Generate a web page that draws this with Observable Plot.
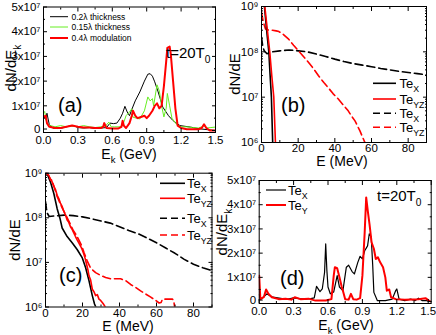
<!DOCTYPE html>
<html><head><meta charset="utf-8">
<script src="https://cdn.jsdelivr.net/npm/d3@7"></script>
<script src="https://cdn.jsdelivr.net/npm/@observablehq/plot@0.6"></script>
<style>
body{margin:0;background:#fff}
#fig{position:relative;width:436px;height:335px;overflow:hidden;font-family:"Liberation Sans",Arial,sans-serif;background:#fff}
#fig svg{position:absolute}
</style></head><body><div id="fig"></div>
<script>
// ---------- Panel (a): dN/dEk (x10^7) vs Ek (GeV) ----------
const aBlackE = [0,0.01,0.02,0.03,0.05,0.08,0.12,0.16,0.2,0.24,0.27,0.3,0.35,0.4,0.45,0.5,0.55,0.58,0.61,0.64,0.67,0.69,0.71,0.73,0.75,0.77,0.8,0.84,0.88,0.91,0.93,0.95,0.97,1.0,1.04,1.09,1.13,1.19,1.28,1.36,1.44,1.5];
const aBlackN = [0.5,0.55,0.45,0.7,0.25,0.1,0.08,0.1,0.15,0.2,0.18,0.12,0.1,0.12,0.08,0.1,0.12,0.3,0.28,0.3,0.5,0.7,0.98,0.75,0.6,0.85,1.2,1.56,2.0,2.28,2.3,2.2,1.97,1.56,0.95,0.6,0.4,0.2,0.14,0.07,0.03,0.0];
const aGreenE = [0,0.01,0.03,0.06,0.1,0.15,0.2,0.25,0.3,0.35,0.4,0.45,0.5,0.54,0.57,0.59,0.62,0.66,0.69,0.72,0.75,0.77,0.78,0.81,0.84,0.88,0.91,0.93,0.95,0.96,0.99,1.01,1.03,1.05,1.07,1.08,1.1,1.12,1.16,1.2,1.25,1.3,1.35,1.38,1.4,1.42,1.46,1.5];
const aGreenN = [0.7,0.77,0.27,0.2,0.15,0.2,0.15,0.18,0.15,0.2,0.15,0.12,0.15,0.18,0.34,0.15,0.15,0.15,0.2,0.6,0.75,0.88,0.54,0.5,0.47,0.8,1.36,1.2,1.29,1.0,1.85,1.6,1.0,0.55,0.9,1.5,1.0,0.5,0.25,0.15,0.15,0.12,0.1,0.15,0.2,0.1,0.12,0.14];
const aRedE = [0,0.01,0.02,0.03,0.05,0.1,0.15,0.2,0.25,0.3,0.35,0.4,0.45,0.5,0.52,0.53,0.55,0.6,0.65,0.68,0.69,0.7,0.72,0.75,0.77,0.78,0.8,0.82,0.85,0.88,0.9,0.92,0.95,0.97,0.99,1.01,1.03,1.05,1.07,1.08,1.1,1.11,1.13,1.15,1.17,1.2,1.25,1.3,1.35,1.38,1.4,1.42,1.45,1.5];
const aRedN = [0.6,0.55,0.6,0.3,0.15,0.1,0.1,0.15,0.2,0.15,0.12,0.12,0.1,0.1,0.15,0.3,0.1,0.08,0.08,0.15,0.4,0.2,0.1,0.3,0.6,0.8,0.6,0.5,0.55,0.6,0.5,0.6,0.8,1.0,1.1,0.9,1.0,1.8,2.8,3.35,3.4,3.1,2.0,0.9,0.2,0.1,0.05,0.05,0.05,0.1,0.25,0.1,0.0,0.0];
const legendA = ["0.2\u03bb thickness","0.15\u03bb thickness","0.4\u03bb modulation"];

// ---------- Panel (b): dN/dE vs E (MeV), log ----------
const bSolidXE = [1.6,2.8,4.0,4.7,5.4,6.1];
const bSolidXN = [1e9,3e8,1e8,3e7,1e7,1e6];
const bSolidYZE = [1.8,3.2,4.5,5.6,6.7,7.6];
const bSolidYZN = [1e9,3e8,1e8,3e7,1e7,1e6];
const bDashXE = [0,0.7,1.5,3,6,10,15,20,25,30,35,40,45,50,55,60,65,70,75,80,85,90];
const bDashXN = [2.1e8,1.3e8,1.05e8,9.1e7,1.0e8,1.05e8,1.1e8,1.05e8,1.0e8,8.9e7,7.9e7,6.9e7,6.1e7,5.5e7,5.1e7,4.7e7,4.3e7,4.0e7,3.7e7,3.5e7,3.3e7,3.1e7];
const bDashYZE = [0,1,2.2,4,6,8,9.5,12,14.8,17.5,20.2,23,25.7,28.5,31,34,36.5,39,41.9,44.5,47.3,49,51,53.7,56.4];
const bDashYZN = [7.4e8,4.5e8,3.2e8,3.0e8,3.0e8,2.9e8,2.8e8,2.4e8,1.9e8,1.4e8,1.05e8,7.8e7,5.8e7,4.2e7,3.0e7,2.1e7,1.6e7,1.2e7,9.1e6,6.8e6,5e6,3.9e6,3e6,1.8e6,1.0e6];

// ---------- Panel (c): dN/dE vs E (MeV), log ----------
const cSolidXE = [0.9,2.7,4.5,6.3,7.8,9,11.7,14.4,17.1,19.9,21.7,23.5,25.3,26.5,27.2];
const cSolidXN = [9.8e8,6.3e8,3.5e8,1.6e8,9.8e7,5.9e7,3.8e7,2.75e7,1.95e7,1.26e7,7.6e6,3.9e6,1.8e6,1.17e6,1.0e6];
const cSolidYZE = [0.5,1.2,1.8,2.3,2.7,3.2,3.6,4.5,5.4,6.3,7.2,8.1,9,9.9,10.8,11.7,12.6,13.5,14.4,15.3,16.2,17.1,18,19,19.9,20.8,21.5,22.2,23,23.5,24.4,25.3,26.2,27.1,28,28.9,29.8,30.7,31.6,32.3];
const cSolidYZN = [1.07e9,9.3e8,8.9e8,7.9e8,6.9e8,7.1e8,6.3e8,5.1e8,4.3e8,3.2e8,2.7e8,2.1e8,1.8e8,1.4e8,1.15e8,8.9e7,7.9e7,6.3e7,5.5e7,4.6e7,3.8e7,3.2e7,2.75e7,2.3e7,1.9e7,1.5e7,1.2e7,9.1e6,6.6e6,5.0e6,4.0e6,2.5e6,2.2e6,1.8e6,1.9e6,1.5e6,1.4e6,1.26e6,1.12e6,1.0e6];
const cDashXE = [0,0.5,1,2,5,10,15,20,25,30,35,40,45,50,55,60,65,70,75,80,85,90];
const cDashXN = [2.3e8,1.6e8,1.26e8,1.07e8,1.1e8,1.15e8,1.12e8,1.05e8,9.5e7,8.5e7,7.6e7,6.3e7,5.2e7,4.4e7,3.5e7,2.75e7,2.1e7,1.6e7,1.17e7,9.1e6,7.6e6,6.5e6];
const cDashYZE = [0.5,1.5,2.5,3.5,4.5,6,7.5,9,10.5,12,13.5,15,16.5,18,19.5,20.8,22.6,24.4,27.1,29.8,32.5,35.2,37.9,40.6,43.3,46,48.7,51.4,54.2,56.9,59.6,61.4,62.5,63.2,65.9,68.6,69.3,69.8];
const cDashYZN = [1e9,8.9e8,7.6e8,6.6e8,5.2e8,3.2e8,2.3e8,1.66e8,1.26e8,9.5e7,7.1e7,5.2e7,4.2e7,3.2e7,2.4e7,1.66e7,1.07e7,7.4e6,5.9e6,5.1e6,4.6e6,4.3e6,4.3e6,4.3e6,3.9e6,3.2e6,2.75e6,2.3e6,1.95e6,1.66e6,1.4e6,1.23e6,1.26e6,1.5e6,1.5e6,1.5e6,1.4e6,1.0e6];

// ---------- Panel (d): dN/dEk (x10^7) vs Ek (GeV) ----------
const dBlackE = [0,0.01,0.04,0.067,0.09,0.12,0.16,0.2,0.25,0.3,0.35,0.4,0.45,0.48,0.5,0.53,0.55,0.57,0.58,0.59,0.6,0.62,0.65,0.68,0.7,0.73,0.76,0.78,0.81,0.83,0.86,0.88,0.9,0.92,0.945,0.96,0.977,0.99,1.0,1.03,1.1,1.16,1.19,1.2,1.22,1.27,1.32,1.36,1.39,1.42,1.46,1.5];
const dBlackN = [0.3,0.1,0.2,0.32,0.25,0.18,0.15,0.12,0.1,0.15,0.12,0.1,0.12,0.15,0.63,0.41,0.52,1.2,2.38,1.3,0.6,0.32,0.4,1.07,0.6,0.45,1.42,1.5,1.24,1.14,1.62,1.87,1.76,2.1,2.3,2.8,2.66,1.49,0.38,0.04,0.04,0.1,0.45,0.52,0.1,0.04,0.1,0.04,0.14,0.04,0.04,0.0];
const dRedE = [0,0.01,0.04,0.06,0.08,0.11,0.17,0.23,0.28,0.31,0.36,0.43,0.49,0.52,0.58,0.63,0.65,0.66,0.68,0.7,0.72,0.73,0.75,0.78,0.8,0.82,0.85,0.88,0.9,0.92,0.933,0.948,0.962,0.98,1.0,1.017,1.035,1.055,1.08,1.1,1.113,1.134,1.15,1.19,1.27,1.39,1.45,1.48,1.5];
const dRedN = [1.07,0.1,0.18,0.5,0.32,0.18,0.1,0.12,0.08,0.18,0.1,0.12,0.04,0.04,0.04,0.1,1.07,1.42,1.38,1.0,0.6,0.45,0.1,0.08,0.32,0.1,0.08,0.14,1.07,2.86,4.3,3.7,3.2,2.45,2.18,1.76,1.83,1.62,1.42,1.0,0.45,0.5,0.18,0.1,0.08,0.1,0.14,0.04,0.0];

// ---------- ticks ----------
const gevTicks = [0,0.3,0.6,0.9,1.2,1.5];
const gevMinor = [0.15,0.45,0.75,1.05,1.35];
const linTicks = [0,1,2,3,4,5];
const linMinor = [0.5,1.5,2.5,3.5,4.5];
const mevTicks = [0,20,40,60,80];
const mevMinor = [10,30,50,70,90];
const logTicks = [1e6,1e7,1e8,1e9];
const logMinor = [6,7,8].flatMap(p => [2,3,4,5,6,7,8,9].map(k => k*10**p));

const SUP = {6:"\u2076",7:"\u2077",8:"\u2078",9:"\u2079"};
const fmtE7 = d => d === 0 ? "0" : d + "x10\u2077";
const fmtLog = d => "10" + SUP[Math.round(Math.log10(d))];
const fmtGeV = d3.format(".1f");
const none = () => "";

const RED = "#ff0000", GREEN = "#66ee22", BLACK = "#000000";
const DASH = "8,4";

function frameAxes(xMaj, xMin, yMaj, yMin, xFmt, yFmt, xPad = 7, lastDx = 0, zeroDy = 0) {
  const L = 4, S = 2, pad = 7;
  const xLab = lastDx
    ? [Plot.axisX(xMaj.slice(0, -1), {anchor:"bottom", tickSize:-L, tickPadding:xPad, tickFormat:xFmt, label:null}),
       Plot.axisX(xMaj.slice(-1), {anchor:"bottom", tickSize:-L, tickPadding:xPad, tickFormat:xFmt, label:null, dx:lastDx})]
    : [Plot.axisX(xMaj, {anchor:"bottom", tickSize:-L, tickPadding:xPad, tickFormat:xFmt, label:null})];
  const yLab = zeroDy
    ? [Plot.axisY(yMaj.slice(1), {anchor:"left", tickSize:-L, tickPadding:pad, tickFormat:yFmt, label:null}),
       Plot.axisY(yMaj.slice(0, 1), {anchor:"left", tickSize:-L, tickPadding:pad, tickFormat:yFmt, label:null, dy:zeroDy})]
    : [Plot.axisY(yMaj, {anchor:"left", tickSize:-L, tickPadding:pad, tickFormat:yFmt, label:null})];
  return [
    ...xLab,
    Plot.axisX(xMin, {anchor:"bottom", tickSize:-S, tickFormat:none, label:null}),
    Plot.axisX(xMaj, {anchor:"top", tickSize:-L, tickFormat:none, label:null}),
    Plot.axisX(xMin, {anchor:"top", tickSize:-S, tickFormat:none, label:null}),
    ...yLab,
    Plot.axisY(yMin, {anchor:"left", tickSize:-S, tickFormat:none, label:null}),
    Plot.axisY(yMaj, {anchor:"right", tickSize:-L, tickFormat:none, label:null}),
    Plot.axisY(yMin, {anchor:"right", tickSize:-S, tickFormat:none, label:null}),
    Plot.frame({stroke:"black", strokeWidth:1})
  ];
}
const ln = (xs, ys, o) => Plot.line(xs, {x: xs, y: ys, clip: true, strokeLinejoin:"round", ...o});
const baseStyle = {fontFamily:"Liberation Sans, Arial, sans-serif", fontSize:"11.5px", background:"transparent", overflow:"visible", color:"black"};

function place(svg, left, top) { svg.style.left = left + "px"; svg.style.top = top + "px"; document.getElementById("fig").appendChild(svg); }

// (a)
place(Plot.plot({
  width:218, height:165, marginLeft:43, marginRight:3, marginTop:6.5, marginBottom:33, style:baseStyle,
  x:{domain:[0,1.5]}, y:{domain:[-0.08,5]},
  marks:[
    ln(aBlackE, aBlackN, {stroke:BLACK, strokeWidth:1}),
    ln(aGreenE, aGreenN, {stroke:GREEN, strokeWidth:1}),
    ln(aRedE, aRedN, {stroke:RED, strokeWidth:2}),
    ...frameAxes(gevTicks, gevMinor, linTicks, linMinor, fmtGeV, fmtE7, 7.5, 0, -1.5)
  ]
}), 0, 0);

// (b)
place(Plot.plot({
  width:218, height:165, marginLeft:43, marginRight:10, marginTop:6, marginBottom:23, style:baseStyle,
  x:{domain:[0,90]}, y:{type:"log", domain:[1e6,1e9]},
  marks:[
    ln(bDashXE, bDashXN, {stroke:BLACK, strokeWidth:1.6, strokeDasharray:DASH}),
    ln(bDashYZE, bDashYZN, {stroke:RED, strokeWidth:1.6, strokeDasharray:DASH}),
    ln(bSolidXE, bSolidXN, {stroke:BLACK, strokeWidth:1.6}),
    ln(bSolidYZE, bSolidYZN, {stroke:RED, strokeWidth:1.6}),
    ...frameAxes(mevTicks, mevMinor, logTicks, logMinor, d => String(d), fmtLog, 5.5)
  ]
}), 218, 0);

// (c)
place(Plot.plot({
  width:218, height:170, marginLeft:45, marginRight:6.5, marginTop:7.7, marginBottom:28.5, style:baseStyle,
  x:{domain:[0,90]}, y:{type:"log", domain:[1e6,1e9]},
  marks:[
    ln(cDashXE, cDashXN, {stroke:BLACK, strokeWidth:1.6, strokeDasharray:DASH}),
    ln(cDashYZE, cDashYZN, {stroke:RED, strokeWidth:1.6, strokeDasharray:DASH}),
    ln(cSolidXE, cSolidXN, {stroke:BLACK, strokeWidth:1.6}),
    ln(cSolidYZE, cSolidYZN, {stroke:RED, strokeWidth:1.6}),
    ...frameAxes(mevTicks, mevMinor, logTicks, logMinor, d => String(d), fmtLog, 5.5)
  ]
}), 0, 165);

// (d)
place(Plot.plot({
  width:218, height:170, marginLeft:40.7, marginRight:5.3, marginTop:15, marginBottom:32, style:baseStyle,
  x:{domain:[0,1.5]}, y:{domain:[-0.08,5]},
  marks:[
    ln(dBlackE, dBlackN, {stroke:BLACK, strokeWidth:1.2}),
    ln(dRedE, dRedN, {stroke:RED, strokeWidth:2}),
    ...frameAxes(gevTicks, gevMinor, linTicks, linMinor, fmtGeV, fmtE7, 7.5, -3, -1.5)
  ]
}), 218, 165);

// ---------- overlay text: titles, labels, legends ----------
const ov = d3.select("#fig").append("svg").attr("width",436).attr("height",335)
  .style("left","0px").style("top","0px").attr("font-family","Liberation Sans, Arial, sans-serif");

function rich(x, y, segs, size, opts = {}) {
  const t = ov.append("text").attr("x", x).attr("y", y).attr("font-size", size)
    .attr("text-anchor", opts.anchor || "start").attr("fill", "black");
  if (opts.rotate) t.attr("transform", `rotate(${opts.rotate},${x},${y})`);
  let shift = 0;
  for (const [s, kind] of segs) {
    const target = kind === "sub" ? size * 0.32 : kind === "sup" ? -size * 0.4 : 0;
    t.append("tspan").attr("dy", target - shift).attr("font-size", kind ? size * 0.68 : size).text(s);
    shift = target;
  }
  return t;
}
function legend(x0, x1, tx, rows, size, items) {
  items.forEach((it, i) => {
    const y = rows[i];
    ov.append("line").attr("x1", x0).attr("x2", x1).attr("y1", y).attr("y2", y)
      .attr("stroke", it.color).attr("stroke-width", it.width).attr("stroke-dasharray", it.dash || null);
    rich(tx, y + size * 0.35, it.label, size);
  });
}

const dNdEk = [["dN/dE"],["k","sub"]];
const dNdE = [["dN/dE"]];
const EkGeV = [["E"],["k","sub"],[" (GeV)"]];
const EMeV = [["E (MeV)"]];
const tLabel = [["t=20T"],["0","sub"]];
const TeX = [["Te"],["X","sub"]];
const TeYZ = [["Te"],["YZ","sub"]];
const TeY = [["Te"],["Y","sub"]];

// (a)
rich(16, 68, dNdEk, 15, {anchor:"middle", rotate:-90});
rich(129, 158.5, EkGeV, 14, {anchor:"middle"});
rich(58, 112, [["(a)"]], 20);
rich(166, 58, tLabel, 15);
legend(50, 68, 71.5, [16.7, 27, 38], 8.5, [
  {color:BLACK, width:1, label:[[legendA[0]]]},
  {color:GREEN, width:1, label:[[legendA[1]]]},
  {color:RED, width:2, label:[[legendA[2]]]}
]);
// (b)
rich(240, 74, dNdE, 15, {anchor:"middle", rotate:-90});
rich(342, 166, EMeV, 14, {anchor:"middle"});
rich(281, 112, [["(b)"]], 20);
legend(373, 396, 399.5, [83.3, 99, 113.3, 127.3], 13, [
  {color:BLACK, width:1.6, label:TeX},
  {color:RED, width:1.6, label:TeYZ},
  {color:BLACK, width:1.6, dash:"7,4", label:TeX},
  {color:RED, width:1.6, dash:"7,4", label:TeYZ}
]);
// (c)
rich(20, 240, dNdE, 15, {anchor:"middle", rotate:-90});
rich(128, 331, EMeV, 14, {anchor:"middle"});
rich(59, 282, [["(c)"]], 20);
legend(160, 185, 187, [183.3, 198.3, 218.3, 235], 13, [
  {color:BLACK, width:1.6, label:TeX},
  {color:RED, width:1.6, label:TeYZ},
  {color:BLACK, width:1.6, dash:"7,4", label:TeX},
  {color:RED, width:1.6, dash:"7,4", label:TeYZ}
]);
// (d)
rich(227, 232, dNdEk, 15, {anchor:"middle", rotate:-90});
rich(346, 330, EkGeV, 14, {anchor:"middle"});
rich(280, 285, [["(d)"]], 20);
rich(377, 201, tLabel, 15);
legend(266, 286, 288, [190, 205], 13, [
  {color:BLACK, width:1.2, label:TeX},
  {color:RED, width:2, label:TeY}
]);
</script></body></html>
